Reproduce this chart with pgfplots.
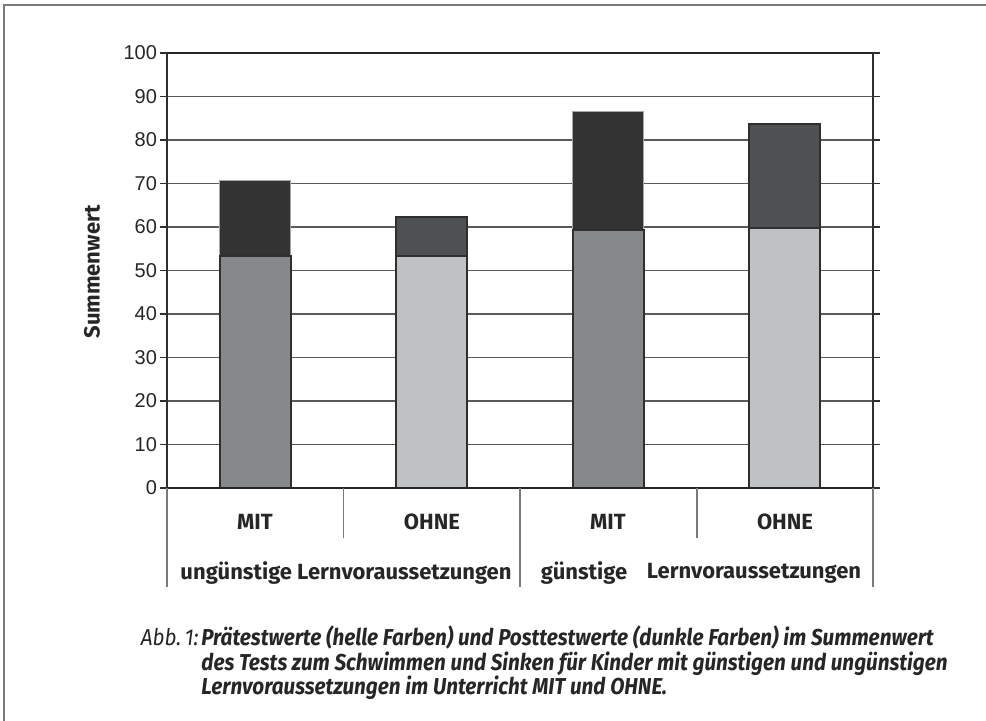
\documentclass[border=0pt]{standalone}
\usepackage{fontspec}
\setmainfont{Liberation Sans}
\newfontfamily\lblfont{Fira Sans}
\usepackage{pgfplots}
\pgfplotsset{compat=1.18}
\definecolor{postA}{HTML}{333333}
\definecolor{postB}{HTML}{4F5052}
\definecolor{preA}{HTML}{87888B}
\definecolor{preB}{HTML}{C0C1C3}
\definecolor{edge}{HTML}{2F2F2F}
\definecolor{gridc}{HTML}{5A5A5A}
\definecolor{framec}{HTML}{7A7A7A}
\begin{document}
\begin{tikzpicture}
\begin{scope}[x=0.5pt,y=-0.5pt]
\useasboundingbox (0,0) rectangle (986,721);
% outer frame (left and top)
\draw[framec, line width=1pt] (4,730) -- (4,5) -- (995,5);
\end{scope}
\begin{axis}[
  at={(83.5pt,-244pt)}, anchor=south west,
  scale only axis, width=353pt, height=217.5pt,
  xmin=-0.5, xmax=3.5, ymin=0, ymax=100,
  ytick={0,10,...,100}, xtick=\empty,
  ymajorgrids, grid style={gridc, line width=0.6pt},
  axis line style={edge, line width=0.8pt},
  tick align=outside, major tick length=3.5pt,
  tick style={edge, line width=0.6pt},
  /pgf/number format/assume math mode=true,
  yticklabel style={font=\fontsize{10}{11}\selectfont, text=black!85, xshift=2pt},
  ybar, bar width=35.5pt, bar shift=0pt,
  clip=false,
]
% Posttest totals (dark)
\addplot[fill=postA, draw=black!35, line width=0.5pt] coordinates {(0,70.8) (2,86.5)};
\addplot[fill=postB, draw=edge, line width=1pt] coordinates {(1,62.2) (3,83.6)};
% Pretest (light)
\addplot[fill=preA, draw=edge, line width=1pt] coordinates {(0,53.3) (2,59.3)};
\addplot[fill=preB, draw=edge, line width=1pt] coordinates {(1,53.4) (3,59.7)};
\draw[black!85, line width=1.1pt] (axis cs:-0.5,100) -- (axis cs:3.5,100);
\draw[black!85, line width=1.1pt] (axis cs:-0.5,0) -- (axis cs:3.5,0);
\end{axis}
\begin{scope}[x=0.5pt,y=-0.5pt]
% category table lines
\draw[framec, line width=0.6pt] (167,488) -- (167,587);
\draw[framec, line width=0.6pt] (520,488) -- (520,587);
\draw[framec, line width=0.6pt] (873,488) -- (873,587);
\draw[framec, line width=0.6pt] (343.5,488) -- (343.5,538);
\draw[framec, line width=0.6pt] (697,488) -- (697,538);
% labels
\begin{scope}[every node/.style={font=\lblfont\bfseries\fontsize{11}{12}\selectfont, text=black!85, inner sep=0pt}]
\node at (255,522) {MIT};
\node at (432,522) {OHNE};
\node at (608,522) {MIT};
\node at (785,522) {OHNE};
\node at (346,573) {ungünstige Lernvoraussetzungen};
\node at (584,573) {günstige};
\node at (754,573) {Lernvoraussetzungen};
\node[rotate=90] at (92,272) {Summenwert};
\end{scope}
% caption
\begin{scope}[every node/.style={inner sep=0pt, anchor=base west, text=black!85}]
\node[anchor=base east] at (199,646) {\lblfont\itshape\fontsize{11.5}{12}\selectfont\scalebox{0.9}[1]{Abb.\,1:}};
\node at (201,646) {\lblfont\bfseries\itshape\fontsize{11.5}{12}\selectfont\scalebox{0.9}[1]{Prätestwerte (helle Farben) und Posttestwerte (dunkle Farben) im Summenwert}};
\node at (201,670.5) {\lblfont\bfseries\itshape\fontsize{11.5}{12}\selectfont\scalebox{0.9}[1]{des Tests zum Schwimmen und Sinken für Kinder mit günstigen und ungünstigen}};
\node at (201,695) {\lblfont\bfseries\itshape\fontsize{11.5}{12}\selectfont\scalebox{0.9}[1]{Lernvoraussetzungen im Unterricht MIT und OHNE.}};
\end{scope}
\end{scope}
\end{tikzpicture}
\end{document}
